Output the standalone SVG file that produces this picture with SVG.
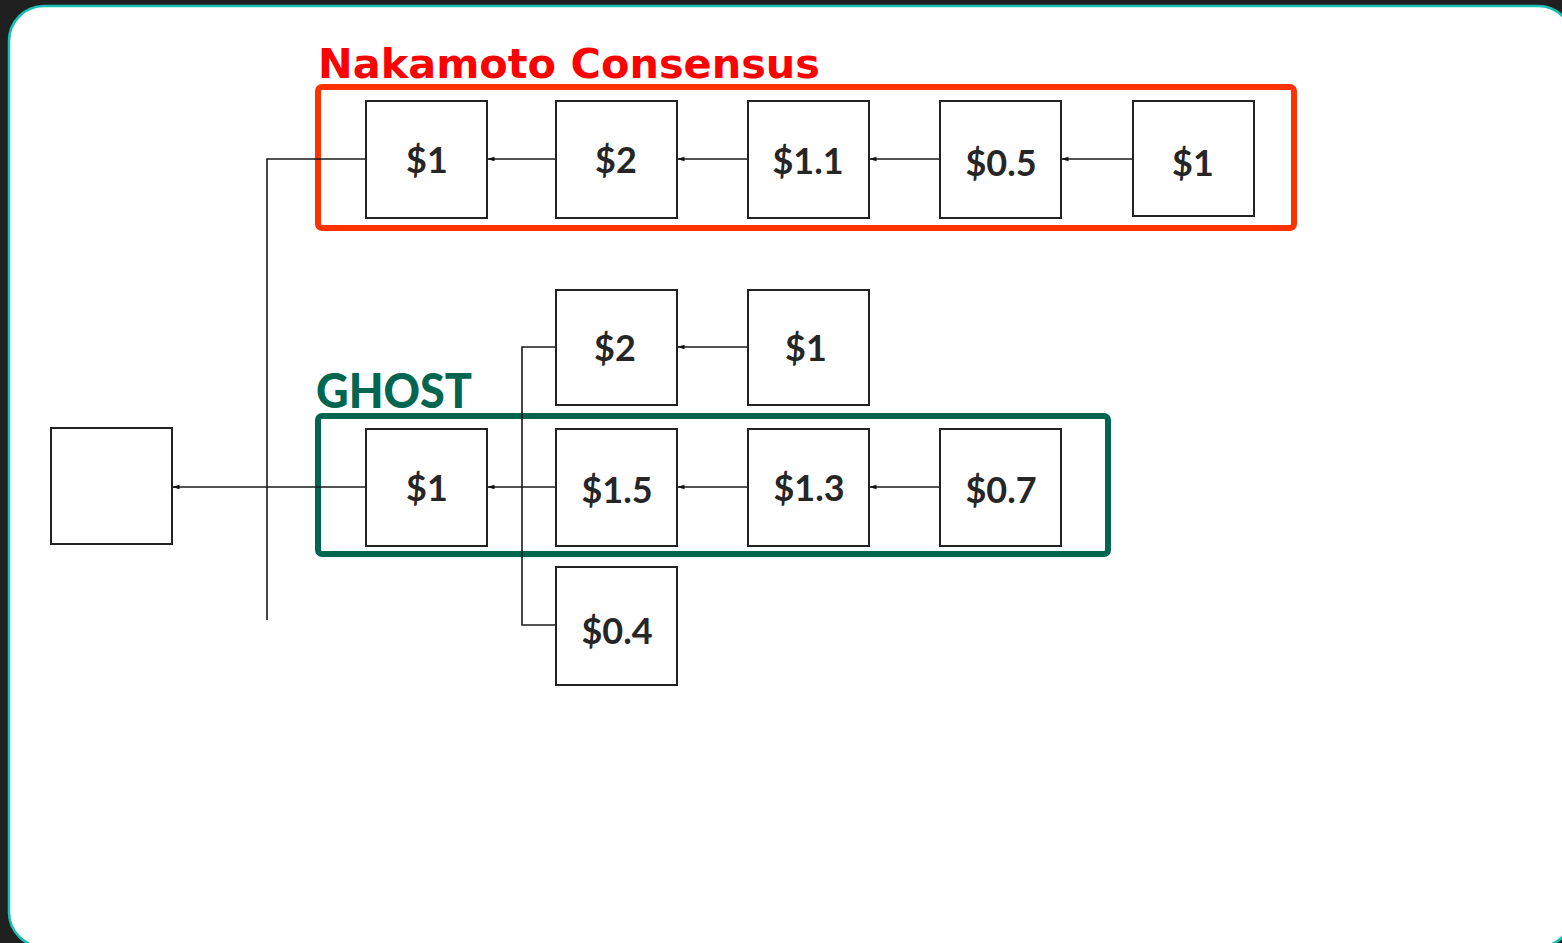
<svg xmlns="http://www.w3.org/2000/svg" width="1562" height="943" viewBox="0 0 1562 943">
  <style>
    .blk { fill: #ffffff; stroke: #222222; stroke-width: 2; }
    .val { font-family: Lato, "DejaVu Sans", sans-serif; font-weight: bold; font-size: 36px; fill: #262626; text-anchor: middle; }
    .wire { fill: none; stroke: #1a1a1a; stroke-width: 1.6; }
    .title { font-family: "DejaVu Sans", "Liberation Sans", sans-serif; font-weight: bold; }
  </style>
  <defs>
    <marker id="tip" viewBox="0 0 7 6" refX="6.5" refY="3" markerWidth="7" markerHeight="6" markerUnits="userSpaceOnUse" orient="auto">
      <path d="M0,0.8 L7,3 L0,5.2 Z" fill="#111111"/>
    </marker>
  </defs>

  <!-- backdrop and card -->
  <rect x="0" y="0" width="1562" height="943" fill="#202020"/>
  <rect x="9" y="6" width="1564" height="941" rx="35" ry="35" fill="#ffffff" stroke="#14c0b8" stroke-width="2.5"/>

  <!-- chain highlight frames -->
  <g id="frame-nakamoto">
    <rect x="318" y="87" width="976" height="141" rx="4" fill="none" stroke="#ff3300" stroke-width="6"/>
    <text class="title" x="318" y="78" font-size="40" fill="#ff0000" textLength="502" lengthAdjust="spacingAndGlyphs">Nakamoto Consensus</text>
  </g>
  <g id="frame-ghost">
    <rect x="318" y="416" width="790" height="138" rx="4" fill="none" stroke="#006650" stroke-width="6"/>
    <text x="316" y="408" font-family="Lato, 'DejaVu Sans', sans-serif" font-weight="900" font-size="47" fill="#006650" textLength="156" lengthAdjust="spacingAndGlyphs">GHOST</text>
  </g>

  <!-- links between blocks -->
  <g id="connectors">
    <!-- top chain -->
    <path class="wire" d="M556,159 H488" marker-end="url(#tip)"/>
    <path class="wire" d="M748,159 H678" marker-end="url(#tip)"/>
    <path class="wire" d="M940,159 H870" marker-end="url(#tip)"/>
    <path class="wire" d="M1133,159 H1062" marker-end="url(#tip)"/>
    <path class="wire" d="M366,159 H267 V620"/>
    <!-- side branch -->
    <path class="wire" d="M748,347 H678" marker-end="url(#tip)"/>
    <path class="wire" d="M556,347 H522 V625 H556"/>
    <!-- heaviest chain -->
    <path class="wire" d="M556,487 H488" marker-end="url(#tip)"/>
    <path class="wire" d="M748,487 H678" marker-end="url(#tip)"/>
    <path class="wire" d="M940,487 H870" marker-end="url(#tip)"/>
    <path class="wire" d="M366,487 H173" marker-end="url(#tip)"/>
  </g>

  <!-- genesis -->
  <g id="genesis"><rect class="blk" x="51" y="428" width="121" height="116"/></g>

  <!-- top chain blocks -->
  <g id="n1"><rect class="blk" x="366" y="101" width="121" height="117"/><text class="val" x="427" y="173">$1</text></g>
  <g id="n2"><rect class="blk" x="556" y="101" width="121" height="117"/><text class="val" x="616" y="173">$2</text></g>
  <g id="n3"><rect class="blk" x="748" y="101" width="121" height="117"/><text class="val" x="808" y="174">$1.1</text></g>
  <g id="n4"><rect class="blk" x="940" y="101" width="121" height="117"/><text class="val" x="1001" y="176">$0.5</text></g>
  <g id="n5"><rect class="blk" x="1133" y="101" width="121" height="115"/><text class="val" x="1193" y="176">$1</text></g>

  <!-- side branch blocks -->
  <g id="b1"><rect class="blk" x="556" y="290" width="121" height="115"/><text class="val" x="615" y="361">$2</text></g>
  <g id="b2"><rect class="blk" x="748" y="290" width="121" height="115"/><text class="val" x="806" y="361">$1</text></g>

  <!-- heaviest chain blocks -->
  <g id="g1"><rect class="blk" x="366" y="429" width="121" height="117"/><text class="val" x="427" y="501">$1</text></g>
  <g id="g2"><rect class="blk" x="556" y="429" width="121" height="117"/><text class="val" x="617" y="503">$1.5</text></g>
  <g id="g3"><rect class="blk" x="748" y="429" width="121" height="117"/><text class="val" x="809" y="501">$1.3</text></g>
  <g id="g4"><rect class="blk" x="940" y="429" width="121" height="117"/><text class="val" x="1001" y="503">$0.7</text></g>

  <!-- uncle block -->
  <g id="u1"><rect class="blk" x="556" y="567" width="121" height="118"/><text class="val" x="617" y="644">$0.4</text></g>
</svg>
